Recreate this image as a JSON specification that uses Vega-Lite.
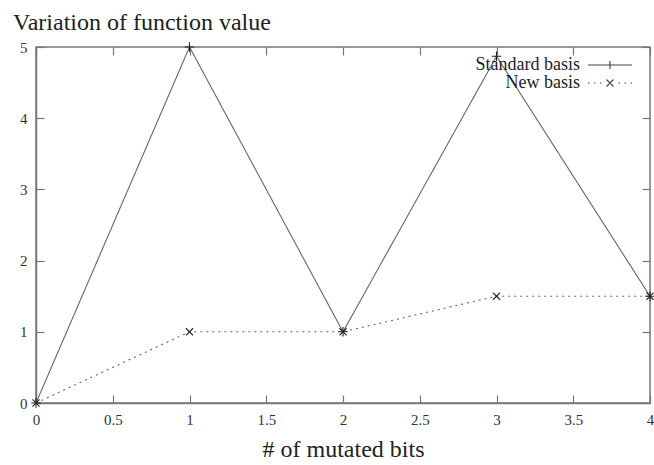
{
  "$schema": "https://vega.github.io/schema/vega-lite/v6.json",
  "width": 614,
  "height": 356,
  "autosize": {"type": "none"},
  "padding": {"left": 36, "top": 47, "right": 4, "bottom": 62},
  "background": "white",
  "title": {"text": "Variation of function value", "anchor": "start", "frame": "group", "dx": -23, "offset": 5, "font": "Liberation Serif, serif", "fontSize": 24, "fontWeight": "normal", "color": "#222"},
  "config": {
    "view": {"stroke": "#777", "strokeWidth": 1.5},
    "axis": {"grid": false, "labelFont": "Liberation Serif, serif", "labelFontSize": 15, "labelColor": "#333", "titleFont": "Liberation Serif, serif", "titleFontWeight": "normal", "titleColor": "#222", "domainColor": "#777", "domainWidth": 1.5, "tickColor": "#777", "tickWidth": 1.2, "tickSize": -8}
  },
  "data": {"values": [
    {"x": 0, "y": 0, "series": "Standard basis"},
    {"x": 1, "y": 5, "series": "Standard basis"},
    {"x": 2, "y": 1, "series": "Standard basis"},
    {"x": 3, "y": 4.87, "series": "Standard basis"},
    {"x": 4, "y": 1.5, "series": "Standard basis"},
    {"x": 0, "y": 0, "series": "New basis"},
    {"x": 1, "y": 1, "series": "New basis"},
    {"x": 2, "y": 1, "series": "New basis"},
    {"x": 3, "y": 1.5, "series": "New basis"},
    {"x": 4, "y": 1.5, "series": "New basis"}
  ]},
  "resolve": {"axis": {"x": "independent", "y": "independent"}, "scale": {"shape": "independent"}, "legend": {"strokeDash": "independent", "shape": "independent"}},
  "layer": [
    {
      "mark": {"type": "line", "color": "#666", "strokeWidth": 1.1},
      "encoding": {
        "x": {"field": "x", "type": "quantitative", "scale": {"domain": [0, 4], "nice": false}, "axis": {"orient": "bottom", "values": [0, 0.5, 1, 1.5, 2, 2.5, 3, 3.5, 4], "format": "~g", "title": "# of mutated bits", "titleFontSize": 24, "labelPadding": 17, "titlePadding": 10, "labelFlush": false, "labelFont": "Liberation Serif, serif"}},
        "y": {"field": "y", "type": "quantitative", "scale": {"domain": [0, 5], "nice": false}, "axis": {"orient": "left", "values": [0, 1, 2, 3, 4, 5], "title": null, "labelPadding": 17, "labelFont": "Liberation Serif, serif"}},
        "detail": {"field": "series"},
        "strokeDash": {"field": "series", "type": "nominal", "scale": {"domain": ["Standard basis", "New basis"], "range": [[1, 0], [2, 4]]}, "legend": null}
      }
    },
    {
      "mark": {"type": "point", "filled": false, "color": "#222", "strokeWidth": 1.1, "size": 90, "opacity": 1},
      "encoding": {
        "x": {"field": "x", "type": "quantitative", "axis": {"orient": "top", "values": [0, 0.5, 1, 1.5, 2, 2.5, 3, 3.5, 4], "labels": false, "title": null, "domain": false}},
        "y": {"field": "y", "type": "quantitative", "axis": {"orient": "right", "values": [0, 1, 2, 3, 4, 5], "labels": false, "title": null, "domain": false}},
        "shape": {"field": "series", "type": "nominal", "scale": {"domain": ["Standard basis", "New basis"], "range": ["M-1,0L1,0M0,-1L0,1", "M-0.75,-0.75L0.75,0.75M-0.75,0.75L0.75,-0.75"]}, "legend": null}
      }
    },
    {
      "mark": {"type": "point", "filled": false, "color": "#222", "strokeWidth": 1.1, "size": 90, "opacity": 0},
      "encoding": {
        "x": {"field": "x", "type": "quantitative", "axis": null},
        "y": {"field": "y", "type": "quantitative", "axis": null},
        "shape": {"field": "series", "type": "nominal", "scale": {"domain": ["Standard basis", "New basis"], "range": ["M-4.4,0L4.4,0M0,-0.8L0,0.8", "M-4.4,0L-4.1,0M-3.2,0L-2.9,0M-2.0,0L-1.7,0M1.7,0L2.0,0M2.9,0L3.2,0M4.1,0L4.4,0M-0.7,-0.7L0.7,0.7M-0.7,0.7L0.7,-0.7"]},
          "legend": {"orient": "none", "legendX": 565, "legendY": 9, "title": null, "symbolSize": 100, "symbolOpacity": 1, "symbolStrokeColor": "#444", "symbolStrokeWidth": 1.1, "symbolFillColor": "transparent", "labelFont": "Liberation Serif, serif", "labelFontSize": 18, "labelColor": "#222", "labelAlign": "right", "labelOffset": -39, "rowPadding": -7, "padding": 0}
        }
      }
    }
  ]
}
